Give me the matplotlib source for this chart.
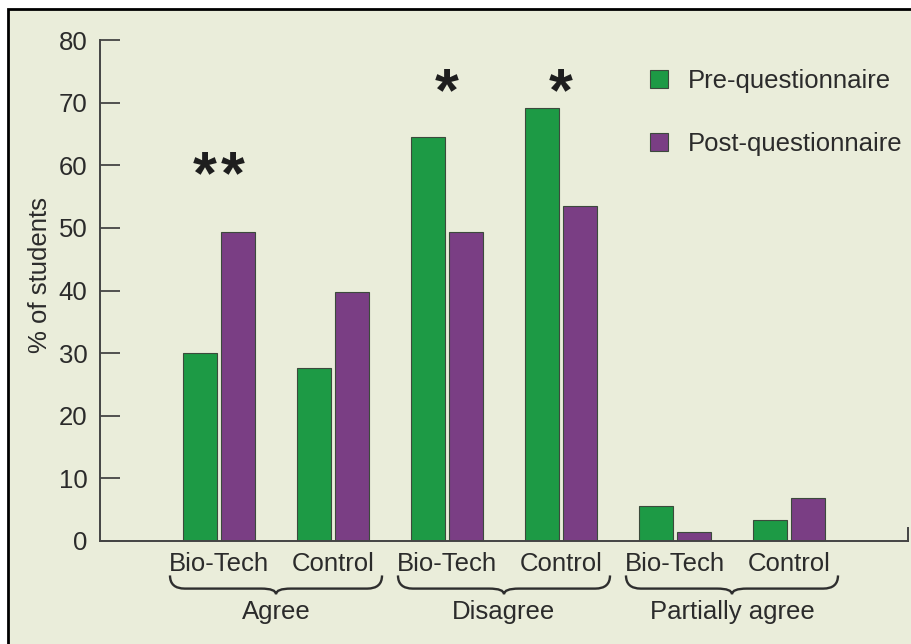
import matplotlib
matplotlib.use("Agg")
import matplotlib.pyplot as plt
from matplotlib.patches import Rectangle, PathPatch
from matplotlib.path import Path
from matplotlib.transforms import offset_copy
import numpy as np

# ---- data ----
groups = ["Agree", "Disagree", "Partially agree"]
subgroups = ["Bio-Tech", "Control", "Bio-Tech", "Control", "Bio-Tech", "Control"]
pre_values = [30.0, 27.6, 64.5, 69.2, 5.6, 3.4]
post_values = [49.4, 39.8, 49.4, 53.5, 1.4, 6.9]
series_names = ["Pre-questionnaire", "Post-questionnaire"]
star_labels = ["**", "*", "*"]
star_index = [0, 2, 3]
star_y = [58.0, 71.2, 71.2]
yticks = [0, 10, 20, 30, 40, 50, 60, 70, 80]

# ---- style ----
BG = "#EAEDDA"
GREEN = "#1D9A45"
PURPLE = "#7A3E84"
EDGE = "#3C4A3C"
TXT = "#2B2B2B"
FS = 18.5

plt.rcParams["font.family"] = ["Liberation Sans", "DejaVu Sans"]

fig = plt.figure(figsize=(9.12, 6.44), dpi=100)
fig.patch.set_facecolor("white")
# framed panel (border on top/left only visible)
panel = Rectangle((8.5 / 912, -0.2), 1.2, 1.2 - 9.0 / 644,
                  transform=fig.transFigure, facecolor=BG,
                  edgecolor="black", linewidth=2.0, zorder=-10)
fig.patches.append(panel)

ax = fig.add_axes([100 / 912, (644 - 541) / 644, 808 / 912, 501 / 644])
ax.set_facecolor("none")
ax.set_zorder(1)

x = np.arange(len(subgroups))
w = 0.298
off = 0.167
ax.bar(x - off, pre_values, width=w, color=GREEN, edgecolor=EDGE, linewidth=0.8,
       label=series_names[0], zorder=2)
ax.bar(x + off, post_values, width=w, color=PURPLE, edgecolor=EDGE, linewidth=0.8,
       label=series_names[1], zorder=2)

ax.set_xlim(-1.044, 6.044)
ax.set_ylim(0, 80)
ax.set_yticks(yticks)
ax.tick_params(axis="y", direction="in", length=14.4, width=1.3, color="#444444",
               labelsize=FS, labelcolor=TXT, pad=9)
ax.set_xticks([])
ax.spines["top"].set_visible(False)
for s in ["left", "bottom", "right"]:
    ax.spines[s].set_color("#444444")
    ax.spines[s].set_linewidth(1.4)
ax.spines["right"].set_bounds(0, 2.1)

ax.set_ylabel("% of students", fontsize=FS, color=TXT)
ax.yaxis.set_label_coords(-0.060, 0.53)

# subgroup labels
for xi, lab in zip(x, subgroups):
    ax.text(xi, -3.7, lab, ha="center", va="center", fontsize=FS, color=TXT,
            clip_on=False)

# braces and group labels
def brace(xl, xr, y0, y1, y2, r):
    xc = (xl + xr) / 2
    verts = [(xl, y0), (xl, y1), (xl + r, y1),
             (xc - r, y1), (xc, y1), (xc, y2),
             (xc, y1), (xc + r, y1),
             (xr - r, y1), (xr, y1), (xr, y0)]
    codes = [Path.MOVETO, Path.CURVE3, Path.CURVE3,
             Path.LINETO, Path.CURVE3, Path.CURVE3,
             Path.CURVE3, Path.CURVE3,
             Path.LINETO, Path.CURVE3, Path.CURVE3]
    return Path(verts, codes)

for gi, g in enumerate(groups):
    gc = 2 * gi + 0.5
    p = brace(gc - 0.93, gc + 0.93, -5.5, -7.6, -8.5, 0.13)
    ax.add_patch(PathPatch(p, facecolor="none", edgecolor="#2E2E2E",
                           linewidth=1.7, clip_on=False))
    ax.text(gc, -11.3, g, ha="center", va="center", fontsize=FS, color=TXT,
            clip_on=False)

# significance stars (each asterisk placed with a small horizontal spread)
for lab, si, sy in zip(star_labels, star_index, star_y):
    n = len(lab)
    for k, ch in enumerate(lab):
        dx = (k - (n - 1) / 2) * 20.0  # points
        tr = offset_copy(ax.transData, fig=fig, x=dx, y=0, units="points")
        ax.text(x[si], sy, ch, ha="center", va="center", fontsize=44,
                fontweight="bold", color="#1E1E1E", transform=tr)

leg = ax.legend(loc="upper left", bbox_to_anchor=(0.681, 0.943), frameon=False,
                fontsize=FS, handlelength=0.7, handleheight=0.7,
                handletextpad=0.75, labelspacing=1.55, borderpad=0,
                borderaxespad=0)
for t in leg.get_texts():
    t.set_color(TXT)

fig.savefig("out.png", dpi=100, facecolor=fig.get_facecolor())
